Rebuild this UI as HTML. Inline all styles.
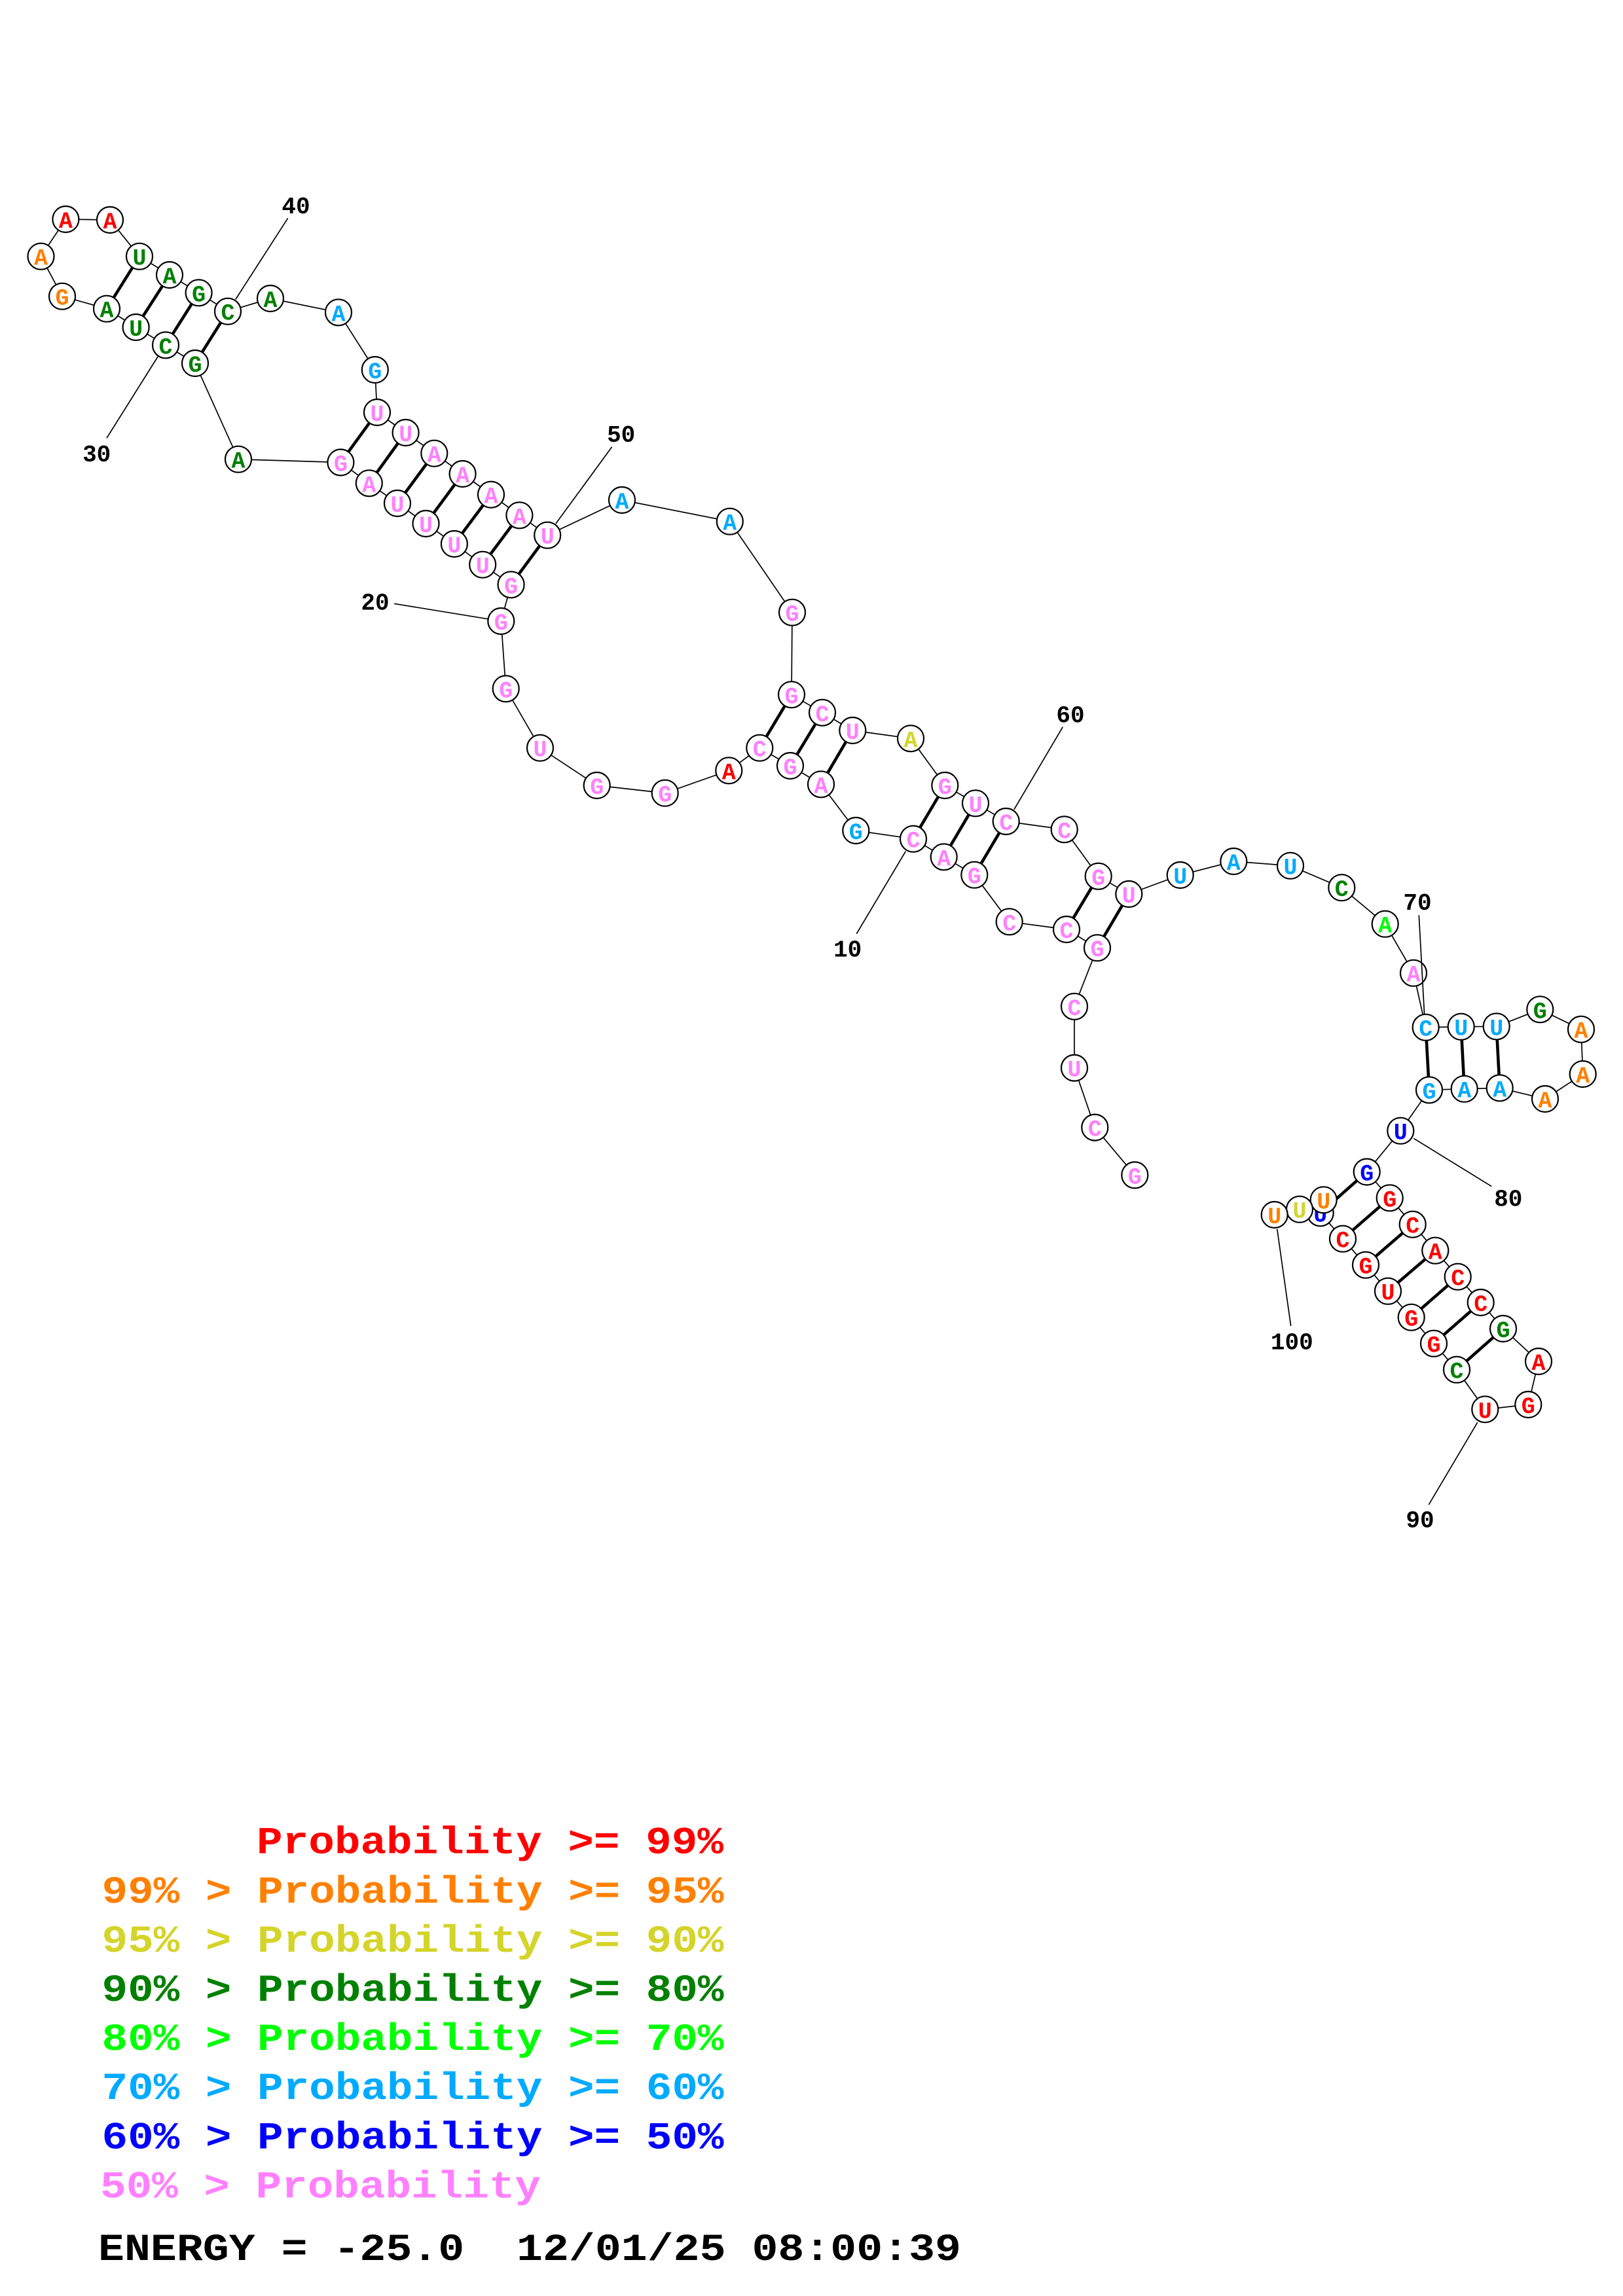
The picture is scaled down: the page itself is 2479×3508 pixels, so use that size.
<!DOCTYPE html>
<html>
<head>
<meta charset="utf-8">
<style>
html,body{margin:0;padding:0;background:#fff;}
svg{display:block;}
.n text{font-family:"Liberation Mono",monospace;font-weight:bold;font-size:35px;text-anchor:middle;}
.p{fill:#ff80ff}.r{fill:#ff0000}.o{fill:#ff8000}.y{fill:#d4d42a}.g{fill:#008000}.l{fill:#00ff00}.c{fill:#00aaff}.b{fill:#0000ff}.k{fill:#000}
.lab{font-family:"Liberation Mono",monospace;font-weight:bold;font-size:36px;text-anchor:middle;fill:#000;}
.leg{font-family:"Liberation Mono",monospace;font-weight:bold;font-size:58px;}
</style>
</head>
<body>
<svg width="2479" height="3508" viewBox="0 0 2479 3508" xmlns="http://www.w3.org/2000/svg">
<rect width="2479" height="3508" fill="#fff"/>

<!-- backbone -->
<polyline fill="none" stroke="#000" stroke-width="1.7" points="1733.3,1795.4 1672.3,1722.6 1641,1631.6 1641,1537.8 1676,1448.2 1629,1420 1541.7,1408.3 1488.3,1336.7 1441.7,1309.3 1395,1281.7 1307.3,1269 1254,1198.3 1207,1170 1160.3,1142.7 1113.3,1177.3 1015.7,1211.7 911.7,1200 825,1142.7 772.7,1052.3 765.3,949 780.6,893.3 737.2,862.7 693.9,831 650.5,800 607,769 563.8,738.3 520.4,706.5 364,701.7 298,555 253,527.3 207.6,500 163,471.7 95,452.7 62.5,391.7 100.4,335 168,336 213,391.7 259,420 303.6,447.3 348,475.7 413,456 517,477.3 572.8,565 576,630 619.6,661 663.3,692.7 706.6,724 750,755.7 793.4,787.3 836.2,817.7 950,764 1114.8,796.7 1210,935.7 1209,1061.3 1256,1088.8 1302.3,1116 1391,1128.3 1443.3,1200 1490,1227.3 1536.7,1255 1625.7,1267.3 1677.7,1338.8 1724.3,1366 1802.7,1337 1884.3,1316 1971,1322.7 2049.3,1356.2 2115.7,1411.7 2159,1486.7 2177.7,1569.7 2231.7,1568.7 2285.7,1568.3 2352.3,1542.3 2415,1572.7 2417.7,1641 2360,1679 2290.7,1662.3 2236.7,1663.7 2183,1665.3 2139.3,1727.7 2087.7,1790.5 2122.7,1830.3 2157.7,1870.7 2192.3,1910.7 2226.7,1950.7 2261.7,1990 2296,2030 2350,2080 2334.3,2146 2268.3,2153.3 2225,2092.7 2190,2052.7 2155.7,2012.7 2120,1972.7 2086,1932.7 2051,1892.7 2016.7,1853.3 2021.7,1833.3 1985,1847.7 1946.7,1856"/>

<!-- base pairs -->
<g stroke="#000" stroke-width="4.6" stroke-linecap="butt">
<line x1="1676" y1="1448.2" x2="1724.3" y2="1366"/>
<line x1="1629" y1="1420" x2="1677.7" y2="1338.8"/>
<line x1="1488.3" y1="1336.7" x2="1536.7" y2="1255"/>
<line x1="1441.7" y1="1309.3" x2="1490" y2="1227.3"/>
<line x1="1395" y1="1281.7" x2="1443.3" y2="1200"/>
<line x1="1254" y1="1198.3" x2="1302.3" y2="1116"/>
<line x1="1207" y1="1170" x2="1256" y2="1088.8"/>
<line x1="1160.3" y1="1142.7" x2="1209" y2="1061.3"/>
<line x1="780.6" y1="893.3" x2="836.2" y2="817.7"/>
<line x1="737.2" y1="862.7" x2="793.4" y2="787.3"/>
<line x1="693.9" y1="831" x2="750" y2="755.7"/>
<line x1="650.5" y1="800" x2="706.6" y2="724"/>
<line x1="607" y1="769" x2="663.3" y2="692.7"/>
<line x1="563.8" y1="738.3" x2="619.6" y2="661"/>
<line x1="520.4" y1="706.5" x2="576" y2="630"/>
<line x1="298" y1="555" x2="348" y2="475.7"/>
<line x1="253" y1="527.3" x2="303.6" y2="447.3"/>
<line x1="207.6" y1="500" x2="259" y2="420"/>
<line x1="163" y1="471.7" x2="213" y2="391.7"/>
<line x1="2177.7" y1="1569.7" x2="2183" y2="1665.3"/>
<line x1="2231.7" y1="1568.7" x2="2236.7" y2="1663.7"/>
<line x1="2285.7" y1="1568.3" x2="2290.7" y2="1662.3"/>
<line x1="2087.7" y1="1790.5" x2="2016.7" y2="1853.3"/>
<line x1="2122.7" y1="1830.3" x2="2051" y2="1892.7"/>
<line x1="2157.7" y1="1870.7" x2="2086" y2="1932.7"/>
<line x1="2192.3" y1="1910.7" x2="2120" y2="1972.7"/>
<line x1="2226.7" y1="1950.7" x2="2155.7" y2="2012.7"/>
<line x1="2261.7" y1="1990" x2="2190" y2="2052.7"/>
<line x1="2296" y1="2030" x2="2225" y2="2092.7"/>
</g>

<!-- nucleotides -->
<g class="n" stroke-width="0">
<g fill="#fff" stroke="#000" stroke-width="2.2">
<circle cx="1733.3" cy="1795.4" r="20"/><circle cx="1672.3" cy="1722.6" r="20"/><circle cx="1641" cy="1631.6" r="20"/><circle cx="1641" cy="1537.8" r="20"/><circle cx="1676" cy="1448.2" r="20"/><circle cx="1629" cy="1420" r="20"/><circle cx="1541.7" cy="1408.3" r="20"/><circle cx="1488.3" cy="1336.7" r="20"/><circle cx="1441.7" cy="1309.3" r="20"/><circle cx="1395" cy="1281.7" r="20"/>
<circle cx="1307.3" cy="1269" r="20"/><circle cx="1254" cy="1198.3" r="20"/><circle cx="1207" cy="1170" r="20"/><circle cx="1160.3" cy="1142.7" r="20"/><circle cx="1113.3" cy="1177.3" r="20"/><circle cx="1015.7" cy="1211.7" r="20"/><circle cx="911.7" cy="1200" r="20"/><circle cx="825" cy="1142.7" r="20"/><circle cx="772.7" cy="1052.3" r="20"/><circle cx="765.3" cy="949" r="20"/>
<circle cx="780.6" cy="893.3" r="20"/><circle cx="737.2" cy="862.7" r="20"/><circle cx="693.9" cy="831" r="20"/><circle cx="650.5" cy="800" r="20"/><circle cx="607" cy="769" r="20"/><circle cx="563.8" cy="738.3" r="20"/><circle cx="520.4" cy="706.5" r="20"/><circle cx="364" cy="701.7" r="20"/><circle cx="298" cy="555" r="20"/><circle cx="253" cy="527.3" r="20"/>
<circle cx="207.6" cy="500" r="20"/><circle cx="163" cy="471.7" r="20"/><circle cx="95" cy="452.7" r="20"/><circle cx="62.5" cy="391.7" r="20"/><circle cx="100.4" cy="335" r="20"/><circle cx="168" cy="336" r="20"/><circle cx="213" cy="391.7" r="20"/><circle cx="259" cy="420" r="20"/><circle cx="303.6" cy="447.3" r="20"/><circle cx="348" cy="475.7" r="20"/>
<circle cx="413" cy="456" r="20"/><circle cx="517" cy="477.3" r="20"/><circle cx="572.8" cy="565" r="20"/><circle cx="576" cy="630" r="20"/><circle cx="619.6" cy="661" r="20"/><circle cx="663.3" cy="692.7" r="20"/><circle cx="706.6" cy="724" r="20"/><circle cx="750" cy="755.7" r="20"/><circle cx="793.4" cy="787.3" r="20"/><circle cx="836.2" cy="817.7" r="20"/>
<circle cx="950" cy="764" r="20"/><circle cx="1114.8" cy="796.7" r="20"/><circle cx="1210" cy="935.7" r="20"/><circle cx="1209" cy="1061.3" r="20"/><circle cx="1256" cy="1088.8" r="20"/><circle cx="1302.3" cy="1116" r="20"/><circle cx="1391" cy="1128.3" r="20"/><circle cx="1443.3" cy="1200" r="20"/><circle cx="1490" cy="1227.3" r="20"/><circle cx="1536.7" cy="1255" r="20"/>
<circle cx="1625.7" cy="1267.3" r="20"/><circle cx="1677.7" cy="1338.8" r="20"/><circle cx="1724.3" cy="1366" r="20"/><circle cx="1802.7" cy="1337" r="20"/><circle cx="1884.3" cy="1316" r="20"/><circle cx="1971" cy="1322.7" r="20"/><circle cx="2049.3" cy="1356.2" r="20"/><circle cx="2115.7" cy="1411.7" r="20"/><circle cx="2159" cy="1486.7" r="20"/><circle cx="2177.7" cy="1569.7" r="20"/>
<circle cx="2231.7" cy="1568.7" r="20"/><circle cx="2285.7" cy="1568.3" r="20"/><circle cx="2352.3" cy="1542.3" r="20"/><circle cx="2415" cy="1572.7" r="20"/><circle cx="2417.7" cy="1641" r="20"/><circle cx="2360" cy="1679" r="20"/><circle cx="2290.7" cy="1662.3" r="20"/><circle cx="2236.7" cy="1663.7" r="20"/><circle cx="2183" cy="1665.3" r="20"/><circle cx="2139.3" cy="1727.7" r="20"/>
<circle cx="2087.7" cy="1790.5" r="20"/><circle cx="2122.7" cy="1830.3" r="20"/><circle cx="2157.7" cy="1870.7" r="20"/><circle cx="2192.3" cy="1910.7" r="20"/><circle cx="2226.7" cy="1950.7" r="20"/><circle cx="2261.7" cy="1990" r="20"/><circle cx="2296" cy="2030" r="20"/><circle cx="2350" cy="2080" r="20"/><circle cx="2334.3" cy="2146" r="20"/><circle cx="2268.3" cy="2153.3" r="20"/>
<circle cx="2225" cy="2092.7" r="20"/><circle cx="2190" cy="2052.7" r="20"/><circle cx="2155.7" cy="2012.7" r="20"/><circle cx="2120" cy="1972.7" r="20"/><circle cx="2086" cy="1932.7" r="20"/><circle cx="2051" cy="1892.7" r="20"/>
</g>
<circle cx="2016.7" cy="1853.3" r="20" fill="#fff" stroke="#000" stroke-width="2.2"/>
<text class="b" x="2016.7" y="1866.3">U</text>
<circle cx="2021.7" cy="1833.3" r="20" fill="#fff" stroke="#000" stroke-width="2.2"/>
<text class="o" x="2021.7" y="1846.3">U</text>
<circle cx="1985" cy="1847.7" r="20" fill="#fff" stroke="#000" stroke-width="2.2"/>
<text class="y" x="1985" y="1860.7">U</text>
<circle cx="1946.7" cy="1856" r="20" fill="#fff" stroke="#000" stroke-width="2.2"/>
<text class="o" x="1946.7" y="1869">U</text>

<text class="p" x="1733.3" y="1808.4">G</text>
<text class="p" x="1672.3" y="1735.6">C</text>
<text class="p" x="1641" y="1644.6">U</text>
<text class="p" x="1641" y="1550.8">C</text>
<text class="p" x="1676" y="1461.2">G</text>
<text class="p" x="1629" y="1433">C</text>
<text class="p" x="1541.7" y="1421.3">C</text>
<text class="p" x="1488.3" y="1349.7">G</text>
<text class="p" x="1441.7" y="1322.3">A</text>
<text class="p" x="1395" y="1294.7">C</text>
<text class="c" x="1307.3" y="1282">G</text>
<text class="p" x="1254" y="1211.3">A</text>
<text class="p" x="1207" y="1183">G</text>
<text class="p" x="1160.3" y="1155.7">C</text>
<text class="r" x="1113.3" y="1190.3">A</text>
<text class="p" x="1015.7" y="1224.7">G</text>
<text class="p" x="911.7" y="1213">G</text>
<text class="p" x="825" y="1155.7">U</text>
<text class="p" x="772.7" y="1065.3">G</text>
<text class="p" x="765.3" y="962">G</text>
<text class="p" x="780.6" y="906.3">G</text>
<text class="p" x="737.2" y="875.7">U</text>
<text class="p" x="693.9" y="844">U</text>
<text class="p" x="650.5" y="813">U</text>
<text class="p" x="607" y="782">U</text>
<text class="p" x="563.8" y="751.3">A</text>
<text class="p" x="520.4" y="719.5">G</text>
<text class="g" x="364" y="714.7">A</text>
<text class="g" x="298" y="568">G</text>
<text class="g" x="253" y="540.3">C</text>
<text class="g" x="207.6" y="513">U</text>
<text class="g" x="163" y="484.7">A</text>
<text class="o" x="95" y="465.7">G</text>
<text class="o" x="62.5" y="404.7">A</text>
<text class="r" x="100.4" y="348">A</text>
<text class="r" x="168" y="349">A</text>
<text class="g" x="213" y="404.7">U</text>
<text class="g" x="259" y="433">A</text>
<text class="g" x="303.6" y="460.3">G</text>
<text class="g" x="348" y="488.7">C</text>
<text class="g" x="413" y="469">A</text>
<text class="c" x="517" y="490.3">A</text>
<text class="c" x="572.8" y="578">G</text>
<text class="p" x="576" y="643">U</text>
<text class="p" x="619.6" y="674">U</text>
<text class="p" x="663.3" y="705.7">A</text>
<text class="p" x="706.6" y="737">A</text>
<text class="p" x="750" y="768.7">A</text>
<text class="p" x="793.4" y="800.3">A</text>
<text class="p" x="836.2" y="830.7">U</text>
<text class="c" x="950" y="777">A</text>
<text class="c" x="1114.8" y="809.7">A</text>
<text class="p" x="1210" y="948.7">G</text>
<text class="p" x="1209" y="1074.3">G</text>
<text class="p" x="1256" y="1101.8">C</text>
<text class="p" x="1302.3" y="1129">U</text>
<text class="y" x="1391" y="1141.3">A</text>
<text class="p" x="1443.3" y="1213">G</text>
<text class="p" x="1490" y="1240.3">U</text>
<text class="p" x="1536.7" y="1268">C</text>
<text class="p" x="1625.7" y="1280.3">C</text>
<text class="p" x="1677.7" y="1351.8">G</text>
<text class="p" x="1724.3" y="1379">U</text>
<text class="c" x="1802.7" y="1350">U</text>
<text class="c" x="1884.3" y="1329">A</text>
<text class="c" x="1971" y="1335.7">U</text>
<text class="g" x="2049.3" y="1369.2">C</text>
<text class="l" x="2115.7" y="1424.7">A</text>
<text class="p" x="2159" y="1499.7">A</text>
<text class="c" x="2177.7" y="1582.7">C</text>
<text class="c" x="2231.7" y="1581.7">U</text>
<text class="c" x="2285.7" y="1581.3">U</text>
<text class="g" x="2352.3" y="1555.3">G</text>
<text class="o" x="2415" y="1585.7">A</text>
<text class="o" x="2417.7" y="1654">A</text>
<text class="o" x="2360" y="1692">A</text>
<text class="c" x="2290.7" y="1675.3">A</text>
<text class="c" x="2236.7" y="1676.7">A</text>
<text class="c" x="2183" y="1678.3">G</text>
<text class="b" x="2139.3" y="1740.7">U</text>
<text class="b" x="2087.7" y="1803.5">G</text>
<text class="r" x="2122.7" y="1843.3">G</text>
<text class="r" x="2157.7" y="1883.7">C</text>
<text class="r" x="2192.3" y="1923.7">A</text>
<text class="r" x="2226.7" y="1963.7">C</text>
<text class="r" x="2261.7" y="2003">C</text>
<text class="g" x="2296" y="2043">G</text>
<text class="r" x="2350" y="2093">A</text>
<text class="r" x="2334.3" y="2159">G</text>
<text class="r" x="2268.3" y="2166.3">U</text>
<text class="g" x="2225" y="2105.7">C</text>
<text class="r" x="2190" y="2065.7">G</text>
<text class="r" x="2155.7" y="2025.7">G</text>
<text class="r" x="2120" y="1985.7">U</text>
<text class="r" x="2086" y="1945.7">G</text>
<text class="r" x="2051" y="1905.7">C</text>
</g>

<!-- number label leader lines -->
<g stroke="#000" stroke-width="1.7">
<line x1="439.7" y1="333.3" x2="359.8" y2="457.5"/>
<line x1="163" y1="669.3" x2="241" y2="545"/>
<line x1="934.7" y1="682.7" x2="849" y2="800"/>
<line x1="602" y1="922.3" x2="745" y2="945.7"/>
<line x1="1623.3" y1="1110.7" x2="1549" y2="1236.7"/>
<line x1="1308.3" y1="1426.7" x2="1383.3" y2="1300.7"/>
<line x1="2167.3" y1="1398.3" x2="2175.6" y2="1549"/>
<line x1="2278.3" y1="1812.7" x2="2159.3" y2="1739.3"/>
<line x1="2182.3" y1="2299" x2="2256.7" y2="2173.3"/>
<line x1="1971.7" y1="2026" x2="1950.7" y2="1877.7"/>
</g>

<!-- number labels -->
<text class="lab" x="452" y="326">40</text>
<text class="lab" x="147.7" y="705">30</text>
<text class="lab" x="948.7" y="675">50</text>
<text class="lab" x="573" y="931.7">20</text>
<text class="lab" x="1635" y="1103.3">60</text>
<text class="lab" x="1294.7" y="1461.7">10</text>
<text class="lab" x="2165" y="1390">70</text>
<text class="lab" x="2303.8" y="1842.3">80</text>
<text class="lab" x="2169" y="2333.3">90</text>
<text class="lab" x="1973.3" y="2061.7">100</text>

<!-- legend -->
<text class="leg r" x="392" y="2831.7" textLength="713" lengthAdjust="spacingAndGlyphs">Probability &gt;= 99%</text>
<text class="leg o" x="155.5" y="2906.8" textLength="950" lengthAdjust="spacingAndGlyphs">99% &gt; Probability &gt;= 95%</text>
<text class="leg y" x="155.5" y="2981.9" textLength="950" lengthAdjust="spacingAndGlyphs">95% &gt; Probability &gt;= 90%</text>
<text class="leg g" x="155.5" y="3057" textLength="950" lengthAdjust="spacingAndGlyphs">90% &gt; Probability &gt;= 80%</text>
<text class="leg l" x="155.5" y="3132.1" textLength="950" lengthAdjust="spacingAndGlyphs">80% &gt; Probability &gt;= 70%</text>
<text class="leg c" x="155.5" y="3207.2" textLength="950" lengthAdjust="spacingAndGlyphs">70% &gt; Probability &gt;= 60%</text>
<text class="leg b" x="155.5" y="3282.3" textLength="950" lengthAdjust="spacingAndGlyphs">60% &gt; Probability &gt;= 50%</text>
<text class="leg p" x="153" y="3357.4" textLength="673" lengthAdjust="spacingAndGlyphs">50% &gt; Probability</text>
<text class="leg k" x="150" y="3453" textLength="1318" lengthAdjust="spacingAndGlyphs" xml:space="preserve">ENERGY = -25.0  12/01/25 08:00:39</text>
</svg>
</body>
</html>
